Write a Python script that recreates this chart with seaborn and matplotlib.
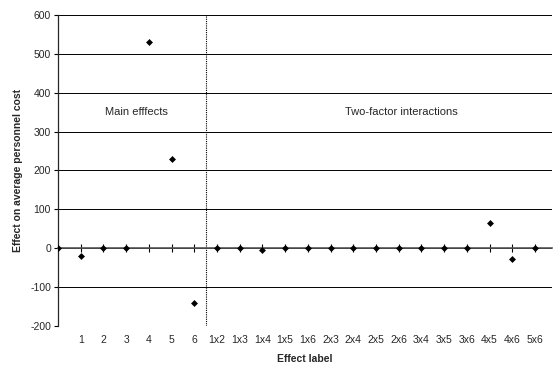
import numpy as np
import pandas as pd
import matplotlib
matplotlib.use("Agg")
import matplotlib.pyplot as plt
import seaborn as sns

# effect labels (first slot is the unlabeled origin point)
labels = ["", "1", "2", "3", "4", "5", "6",
          "1x2", "1x3", "1x4", "1x5", "1x6", "2x3", "2x4", "2x5", "2x6",
          "3x4", "3x5", "3x6", "4x5", "4x6", "5x6"]
effects = [0, -20, 1, 0, 531, 228, -141,
           0, 0, -4, 0, 0, 0, 0, 0, 0,
           0, 0, 0, 64, -27, 0]
yticks = [-200, -100, 0, 100, 200, 300, 400, 500, 600]

df = pd.DataFrame({"pos": np.arange(len(labels)), "effect": effects})

sns.set_style("white")
plt.rcParams["font.family"] = ["Liberation Sans", "DejaVu Sans"]

fig = plt.figure(figsize=(5.53, 3.65), dpi=100)
ax = fig.add_axes([58 / 553, 1 - 325.7 / 365, (552 - 58) / 553, (325.7 - 15) / 365])

sns.scatterplot(data=df, x="pos", y="effect", marker="D", color="black",
                s=9, edgecolor="black", linewidth=0.5, zorder=5, ax=ax)

ax.set_xlim(0, 21.75)
ax.set_ylim(-200, 600)
ax.set_yticks(yticks)
ax.set_yticklabels([str(v) for v in yticks], fontsize=7.5)
for v in yticks:
    ax.axhline(v, color="black", lw=0.7, zorder=1)

# axis line through zero with crossing ticks
ax.spines["bottom"].set_position(("data", 0))
ax.spines["bottom"].set_color("#555555")
ax.spines["bottom"].set_linewidth(1.2)
ax.spines["top"].set_visible(False)
ax.spines["right"].set_visible(False)
ax.spines["left"].set_linewidth(0.9)
ax.set_xticks(df["pos"][1:])
ax.tick_params(axis="x", bottom=True, direction="inout", length=6, width=0.8,
               color="black", labelbottom=False)
ax.tick_params(axis="y", left=True, direction="out", length=3, width=0.8,
               color="black", pad=2)

# labels sit at the bottom of the plot
sec = ax.secondary_xaxis(0.0)
sec.set_xticks(df["pos"][1:])
sec.set_xticklabels(labels[1:], fontsize=7.5)
sec.tick_params(length=0, pad=7)
sec.spines["bottom"].set_visible(False)
sec.set_xlabel("Effect label", fontsize=7.5, fontweight="bold", labelpad=6)

ax.set_xlabel("")
ax.set_ylabel("Effect on average personnel cost", fontsize=7.5, fontweight="bold", labelpad=5)

ax.axvline(6.5, color="black", lw=0.8, linestyle=(0, (1, 1)), zorder=2)
ax.text(3.45, 350, "Main efffects", ha="center", va="center", fontsize=8)
ax.text(15.1, 350, "Two-factor interactions", ha="center", va="center", fontsize=8)

fig.savefig("out.png", dpi=100)
